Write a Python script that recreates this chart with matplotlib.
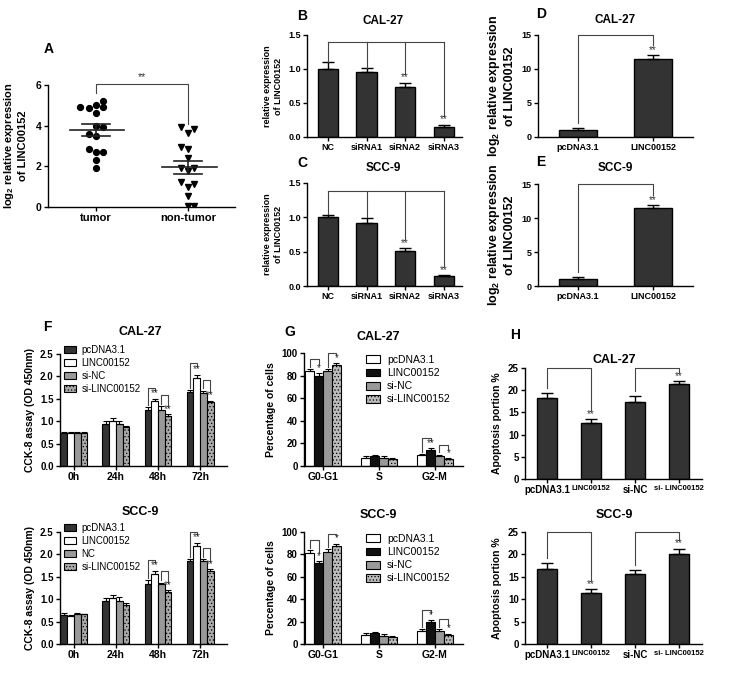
import numpy as np
import matplotlib.pyplot as plt
from matplotlib.patches import Patch

plt.rcParams['font.family'] = ['Liberation Sans', 'DejaVu Sans']
plt.rcParams['font.weight'] = 'bold'
plt.rcParams['axes.labelweight'] = 'bold'
plt.rcParams['mathtext.default'] = 'regular'
plt.rcParams['hatch.linewidth'] = 0.5

W, H = 730, 673

# ---- A: scatter ----
tumor = [4.93, 4.85, 5.0, 5.2, 4.9, 4.6, 3.98, 3.95, 3.59, 3.49, 2.83, 2.71, 2.71, 2.30, 1.92]
tumor_jit = [-0.17, -0.08, 0.0, 0.08, 0.08, 0.0, 0.0, 0.08, -0.08, 0.0, -0.08, 0.0, 0.08, 0.0, 0.0]
nontumor = [3.95, 3.65, 3.82, 2.96, 2.83, 2.43, 1.94, 1.76, 1.94, 1.23, 0.99, 1.12, 0.53, 0.05, 0.05]
nontumor_jit = [-0.08, 0.0, 0.07, -0.08, 0.0, 0.0, -0.08, 0.0, 0.07, -0.08, 0.0, 0.07, 0.0, 0.0, 0.07]
groups_a = ['tumor', 'non-tumor']

# ---- B / C: knockdown ----
kd_labels = ['NC', 'siRNA1', 'siRNA2', 'siRNA3']
kd_cal27 = [1.0, 0.95, 0.74, 0.15]
kd_cal27_err = [0.1, 0.06, 0.06, 0.03]
kd_scc9 = [1.0, 0.92, 0.51, 0.14]
kd_scc9_err = [0.04, 0.07, 0.04, 0.02]
kd_stars = ['', '', '**', '**']

# ---- D / E: overexpression ----
oe_labels = ['pcDNA3.1', 'LINC00152']
oe_cal27 = [1.0, 11.4]
oe_cal27_err = [0.35, 0.6]
oe_scc9 = [1.0, 11.5]
oe_scc9_err = [0.35, 0.4]

# ---- F: CCK-8 ----
time_labels = ['0h', '24h', '48h', '72h']
cck_series_cal27 = ['pcDNA3.1', 'LINC00152', 'si-NC', 'si-LINC00152']
cck_series_scc9 = ['pcDNA3.1', 'LINC00152', 'NC', 'si-LINC00152']
cck_cal27 = [[0.73, 0.94, 1.25, 1.65], [0.73, 1.00, 1.44, 1.97],
             [0.74, 0.94, 1.26, 1.63], [0.73, 0.87, 1.12, 1.43]]
cck_cal27_err = [[0.02, 0.07, 0.07, 0.04], [0.02, 0.08, 0.06, 0.07],
                 [0.02, 0.06, 0.08, 0.05], [0.02, 0.03, 0.03, 0.03]]
cck_scc9 = [[0.65, 0.95, 1.34, 1.85], [0.63, 1.02, 1.57, 2.19],
            [0.66, 0.96, 1.33, 1.85], [0.66, 0.86, 1.16, 1.63]]
cck_scc9_err = [[0.04, 0.08, 0.08, 0.04], [0.02, 0.07, 0.06, 0.07],
                [0.03, 0.09, 0.04, 0.05], [0.02, 0.05, 0.04, 0.04]]
# (group, series a, series b, label)
cck_sig = [(2, 0, 1, '**'), (2, 2, 3, '**'), (3, 0, 1, '**'), (3, 2, 3, '**')]

# ---- G: cell cycle ----
cycle_labels = ['G0-G1', 'S', 'G2-M']
cyc_series = ['pcDNA3.1', 'LINC00152', 'si-NC', 'si-LINC00152']
cyc_cal27 = [[84, 7.5, 9.5], [80, 8.5, 14], [84, 7.5, 9], [89, 6.5, 6]]
cyc_cal27_err = [[2, 1, 1], [2, 1, 1.5], [2, 1, 1], [2, 1, 1]]
cyc_scc9 = [[81, 8, 12], [72, 10, 19.5], [82, 7, 12], [87.5, 6, 8]]
cyc_scc9_err = [[2.5, 2, 1.5], [2, 1, 1.5], [2.5, 1.5, 1], [2, 1, 1]]
cyc_sig_cal27 = [(0, 0, 1, '*'), (0, 2, 3, '*'), (2, 0, 1, '**'), (2, 2, 3, '*')]
cyc_sig_scc9 = [(0, 0, 1, '*'), (0, 2, 3, '*'), (2, 0, 1, '*'), (2, 2, 3, '*')]

# ---- H: apoptosis ----
apo_labels = ['pcDNA3.1', 'LINC00152', 'si-NC', 'si- LINC00152']
apo_cal27 = [18.3, 12.7, 17.4, 21.5]
apo_cal27_err = [1.1, 0.8, 1.2, 0.6]
apo_scc9 = [16.8, 11.4, 15.7, 20.2]
apo_scc9_err = [1.2, 0.8, 0.8, 1.1]


def rect(x0, y0, x1, y1):
    return [x0 / W, 1 - y1 / H, (x1 - x0) / W, (y1 - y0) / H]


def ftext(x, y, s, **kw):
    fig.text(x / W, 1 - y / H, s, ha='center', va='center', **kw)


def style(ax, size=7):
    for s in ['top', 'right']:
        ax.spines[s].set_visible(False)
    for s in ['left', 'bottom']:
        ax.spines[s].set_linewidth(1.0)
    ax.tick_params(direction='out', length=3, width=1, labelsize=size, pad=1.5)


def leg_line(ax, x1, x2, y, y1, y2):
    ax.plot([x1, x1, x2, x2], [y1, y, y, y2], color='#444444', lw=0.8, clip_on=False)


def star(ax, x, y, s):
    ax.text(x, y, s, ha='center', va='bottom', fontsize=7, fontweight='normal', color='#333333')


def simple_bars(ax, vals, errs, width):
    x = np.arange(len(vals))
    ax.bar(x, vals, width, color='#333333', edgecolor='black', lw=1.0)
    ax.errorbar(x, vals, yerr=[np.zeros(len(vals)), errs], fmt='none', ecolor='black',
                elinewidth=1.0, capsize=4, capthick=1.0)
    return x


def grouped_bars(ax, data, errs, colors, hatches, width):
    n = len(data)
    offs = (np.arange(n) - (n - 1) / 2) * width
    x = np.arange(len(data[0]))
    for i in range(n):
        ax.bar(x + offs[i], data[i], width, color=colors[i], edgecolor='black', lw=0.8,
               hatch=hatches[i])
        ax.errorbar(x + offs[i], data[i], yerr=[np.zeros(len(x)), errs[i]], fmt='none',
                    ecolor='black', elinewidth=0.8, capsize=2, capthick=0.8)
    return x, offs


def group_sig(ax, x, offs, data, errs, sigs, d, gap, room):
    for g, a, b, lab in sigs:
        ta = data[a][g] + errs[a][g]
        tb = data[b][g] + errs[b][g]
        h = max(ta, tb) + d
        leg_line(ax, x[g] + offs[a], x[g] + offs[b], h, ta + gap, tb + room)
        star(ax, x[g] + offs[b], tb + gap * 0.2, lab)


fig = plt.figure(figsize=(W / 100, H / 100), dpi=100)

# ---------------- A ----------------
ax = fig.add_axes(rect(48, 85, 235, 207))
style(ax, 7.5)
ax.plot(1 + np.array(tumor_jit), tumor, 'o', color='black', ms=4.2)
ax.plot(2 + np.array(nontumor_jit), nontumor, 'v', color='black', ms=4.2)
for xi, d in zip([1, 2], [tumor, nontumor]):
    m = np.mean(d)
    sem = np.std(d, ddof=1) / np.sqrt(len(d))
    ax.plot([xi - 0.28, xi + 0.31], [m, m], color='#222222', lw=1.2)
    ax.plot([xi - 0.15, xi + 0.15], [m + sem, m + sem], color='#222222', lw=1.2)
    ax.plot([xi - 0.15, xi + 0.15], [m - sem, m - sem], color='#222222', lw=1.2)
    ax.plot([xi, xi], [m - sem, m + sem], color='#222222', lw=1.2)
leg_line(ax, 1, 2, 6.05, max(tumor) + 0.4, max(nontumor) + 0.15)
ax.text(1.5, 6.12, '**', ha='center', va='bottom', fontsize=7.5, fontweight='normal', color='#333333')
ax.set_xlim(0.48, 2.51)
ax.set_ylim(0, 6)
ax.set_yticks([0, 2, 4, 6])
ax.set_xticks([1, 2])
ax.set_xticklabels(groups_a, fontsize=8)
ax.set_ylabel('log$_2$ relative expression\nof LINC00152', fontsize=8, labelpad=6)
ftext(49, 49, 'A', fontsize=10)

# ---------------- B / C ----------------
for (y0, y1), vals, errs, title, ty, letter in [
        ((35, 137), kd_cal27, kd_cal27_err, 'CAL-27', 21, 'B'),
        ((183, 286), kd_scc9, kd_scc9_err, 'SCC-9', 168, 'C')]:
    ax = fig.add_axes(rect(307, y0, 462, y1))
    style(ax, 6.5)
    x = simple_bars(ax, vals, errs, 0.52)
    tops = np.array(vals) + np.array(errs)
    h = 1.39
    ax.plot([x[0], x[-1]], [h, h], color='#444444', lw=0.8)
    for i in range(len(x)):
        end = tops[i] + (0.13 if kd_stars[i] else 0.01)
        ax.plot([x[i], x[i]], [end, h], color='#444444', lw=0.8)
        if kd_stars[i]:
            star(ax, x[i], tops[i] + 0.005, kd_stars[i])
    ax.set_xlim(-0.54, 3.47)
    ax.set_ylim(0, 1.5)
    ax.set_yticks([0, 0.5, 1.0, 1.5])
    ax.set_yticklabels(['0.0', '0.5', '1.0', '1.5'])
    ax.set_xticks(x)
    ax.set_xticklabels(kd_labels, fontsize=6.5)
    ax.set_ylabel('relative expression\nof LINC00152', fontsize=6.5, labelpad=4)
    ftext(383, ty, title, fontsize=8.5)
    ftext(302, ty - 5, letter, fontsize=10)

# ---------------- D / E ----------------
for (y0, y1), vals, errs, title, ty, letter in [
        ((35, 137), oe_cal27, oe_cal27_err, 'CAL-27', 20, 'D'),
        ((184, 286), oe_scc9, oe_scc9_err, 'SCC-9', 168, 'E')]:
    ax = fig.add_axes(rect(538, y0, 693, y1))
    style(ax, 6.5)
    x = simple_bars(ax, vals, errs, 0.5)
    tops = np.array(vals) + np.array(errs)
    leg_line(ax, x[0], x[1], 15, tops[0] + 0.7, tops[1] + 1.5)
    star(ax, x[1], tops[1] + 0.05, '**')
    ax.set_xlim(-0.53, 1.53)
    ax.set_ylim(0, 15)
    ax.set_yticks([0, 5, 10, 15])
    ax.set_xticks(x)
    ax.set_xticklabels(oe_labels, fontsize=6.5)
    ax.set_ylabel('log$_2$ relative expression\nof LINC00152', fontsize=9, labelpad=4)
    ftext(615, ty, title, fontsize=8.5)
    ftext(541, ty - 6, letter, fontsize=10)

# ---------------- F ----------------
f_colors = ['#333333', 'white', '#999999', '#aaaaaa']
f_hatch = [None, None, None, '.....']
for (y0, y1), data, errs, names, title, ty in [
        ((354, 466), cck_cal27, cck_cal27_err, cck_series_cal27, 'CAL-27', 332),
        ((532, 644), cck_scc9, cck_scc9_err, cck_series_scc9, 'SCC-9', 512)]:
    ax = fig.add_axes(rect(60, y0, 227, y1))
    style(ax, 7)
    x, offs = grouped_bars(ax, data, errs, f_colors, f_hatch, 0.16)
    group_sig(ax, x, offs, data, errs, cck_sig, 0.25, 0.05, 0.17)
    ax.set_xlim(-0.33, 3.64)
    ax.set_ylim(0, 2.5)
    ax.set_yticks([0, 0.5, 1.0, 1.5, 2.0, 2.5])
    ax.set_yticklabels(['0.0', '0.5', '1.0', '1.5', '2.0', '2.5'])
    ax.set_xticks(x)
    ax.set_xticklabels(time_labels, fontsize=7.5)
    ax.set_ylabel('CCK-8 assay (OD 450nm)', fontsize=7.5, labelpad=4)
    handles = [Patch(facecolor=c, edgecolor='black', hatch=h, lw=0.8) for c, h in zip(f_colors, f_hatch)]
    ax.legend(handles, names, loc='upper left', bbox_to_anchor=(64 / W, 1 - (y0 - 9) / H),
              bbox_transform=fig.transFigure, frameon=False,
              prop={'weight': 'normal', 'size': 7}, handlelength=1.2, handleheight=0.8,
              handletextpad=0.6, labelspacing=0.3, borderpad=0, borderaxespad=0)
    ftext(140, ty, title, fontsize=9)
ftext(47, 327, 'F', fontsize=10)

# ---------------- G ----------------
g_colors = ['white', '#111111', '#999999', '#bbbbbb']
g_hatch = [None, None, None, '.....']
for (y0, y1), data, errs, sigs, title, ty, legy in [
        ((353, 466), cyc_cal27, cyc_cal27_err, cyc_sig_cal27, 'CAL-27', 337, 355),
        ((532, 644), cyc_scc9, cyc_scc9_err, cyc_sig_scc9, 'SCC-9', 515, 534)]:
    ax = fig.add_axes(rect(304, y0, 463, y1))
    style(ax, 7)
    x, offs = grouped_bars(ax, data, errs, g_colors, g_hatch, 0.16)
    group_sig(ax, x, offs, data, errs, sigs, 9, 2, 7)
    ax.set_xlim(-0.34, 2.5)
    ax.set_ylim(0, 100)
    ax.set_yticks([0, 20, 40, 60, 80, 100])
    ax.set_xticks(x)
    ax.set_xticklabels(cycle_labels, fontsize=7.5)
    ax.set_ylabel('Percentage of cells', fontsize=7.5, labelpad=4)
    handles = [Patch(facecolor=c, edgecolor='black', hatch=h, lw=0.8) for c, h in zip(g_colors, g_hatch)]
    ax.legend(handles, cyc_series, loc='upper left', bbox_to_anchor=(366 / W, 1 - legy / H),
              bbox_transform=fig.transFigure, frameon=False,
              prop={'weight': 'normal', 'size': 7.5}, handlelength=1.3, handleheight=0.8,
              handletextpad=0.7, labelspacing=0.3, borderpad=0, borderaxespad=0)
    ftext(378, ty, title, fontsize=9)
ftext(290, 332, 'G', fontsize=10)

# ---------------- H ----------------
for (y0, y1), vals, errs, title, ty in [
        ((368, 479), apo_cal27, apo_cal27_err, 'CAL-27', 360),
        ((532, 644), apo_scc9, apo_scc9_err, 'SCC-9', 515)]:
    ax = fig.add_axes(rect(525, y0, 702, y1))
    style(ax, 7)
    x = simple_bars(ax, vals, errs, 0.47)
    tops = np.array(vals) + np.array(errs)
    for a, b in [(0, 1), (2, 3)]:
        leg_line(ax, x[a], x[b], 25, tops[a] + 1.2, tops[b] + 2.0)
        star(ax, x[b], tops[b] + 0.05, '**')
    ax.set_xlim(-0.5, 3.52)
    ax.set_ylim(0, 25)
    ax.set_yticks([0, 5, 10, 15, 20, 25])
    ax.set_xticks(x)
    ax.set_xticklabels(apo_labels, fontsize=7)
    for i in [1, 3]:
        ax.get_xticklabels()[i].set_fontsize(5.5)
    ax.set_ylabel('Apoptosis portion %', fontsize=7.5, labelpad=4)
    ftext(614, ty, title, fontsize=9)
ftext(515, 335, 'H', fontsize=10)

fig.savefig('out.png', dpi=100)
